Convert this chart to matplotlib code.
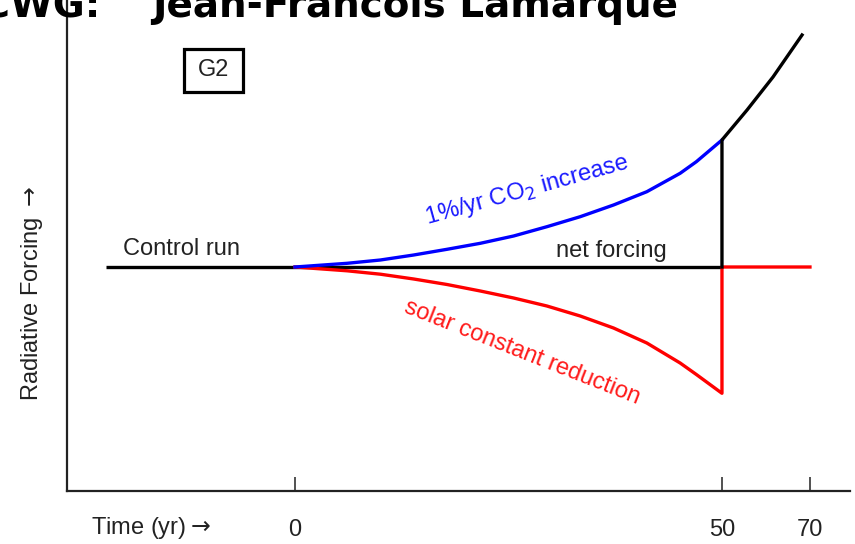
import numpy as np
import matplotlib
matplotlib.use("Agg")
import matplotlib.pyplot as plt
from matplotlib.patches import Rectangle

plt.rcParams['font.family'] = ['Liberation Sans', 'DejaVu Sans']
plt.rcParams['mathtext.fontset'] = 'dejavusans'

# ---- data (schematic radiative forcing, arbitrary units) ----
control_t = [-22.1, 50.0]
control_f = [0.0, 0.0]

co2_t = [0.0, 6.1, 10.0, 13.9, 17.8, 21.7, 25.6, 29.5, 33.4, 37.3, 41.2, 45.1, 47.0, 50.0]
co2_f = [0.0, 3.7, 7.0, 12.0, 17.7, 23.7, 31.0, 40.3, 50.3, 62.0, 75.3, 93.7, 105.3, 127.0]

solar_t = [0.0, 6.1, 10.0, 13.9, 17.8, 21.7, 25.6, 29.5, 33.4, 37.3, 41.2, 45.1, 47.0, 50.0,
           50.0, 70.0]
solar_f = [0.0, -3.8, -7.2, -12.0, -17.5, -24.0, -31.0, -39.0, -49.0, -61.0, -76.0, -96.0,
           -107.5, -126.3, 0.0, 0.0]

after_t = [50.0, 50.0, 55.7, 61.6, 68.2]
after_f = [0.0, 127.0, 157.0, 190.0, 232.0]

tick_vals = [0, 50, 70]
tick_labels = ["0", "50", "70"]

# time axis is compressed after year 50
K = 4.4 / 8.54


def fwd(t):
    t = np.asarray(t, dtype=float)
    return np.where(t <= 50, t, 50 + (t - 50) * K)


def inv(u):
    u = np.asarray(u, dtype=float)
    return np.where(u <= 50, u, 50 + (u - 50) / K)


W, H = 855, 544
fig = plt.figure(figsize=(W / 100, H / 100), dpi=100)
ax = fig.add_axes([67 / W, 53 / H, (850 - 67) / W, 491 / H])
ax.set_xscale('function', functions=(fwd, inv))
ax.set_xlim(-26.7, 79.1)
ax.set_ylim(-224, 267)

lw = 2.4
ax.plot(control_t, control_f, color='black', lw=lw, solid_capstyle='butt', zorder=2)
ax.plot(solar_t, solar_f, color='#ff0000', lw=lw, zorder=3)
ax.plot(co2_t, co2_f, color='#0000ff', lw=lw, zorder=4)
ax.plot(after_t, after_f, color='black', lw=lw, zorder=5)

for s in ['top', 'right']:
    ax.spines[s].set_visible(False)
for s in ['left', 'bottom']:
    ax.spines[s].set_linewidth(1.6)
    ax.spines[s].set_color('#222222')
ax.set_yticks([])
ax.set_xticks(tick_vals)
ax.set_xticklabels(tick_labels)
ax.xaxis.set_minor_locator(matplotlib.ticker.NullLocator())
ax.tick_params(axis='x', direction='in', length=10, width=1.1, color='#222222',
               labelsize=17, pad=20, labelcolor='#222222')

# labels inside the plot
ax.text(-13.3, 12, "Control run", fontsize=17, color='#222222', ha='center', va='baseline')
ax.text(37.0, 10, "net forcing", fontsize=17, color='#222222', ha='center', va='baseline')
ax.text(27.2, 77, r"1%/yr CO$_2$ increase", fontsize=17, color='#1a1aff',
        ha='center', va='center', rotation=15.5, rotation_mode='anchor')
ax.text(26.6, -85, "solar constant reduction", fontsize=17, color='#ff1a1a',
        ha='center', va='center', rotation=-21.5, rotation_mode='anchor')

# G2 box
fig.patches.append(Rectangle((184 / W, 1 - 92 / H), 59 / W, 43 / H, transform=fig.transFigure,
                             fill=False, edgecolor='black', lw=2.3, zorder=10))
fig.text(213.5 / W, 1 - 70.5 / H, "G2", fontsize=17, color='#222222', ha='center', va='center')

# axis labels
fig.text(151 / W, 1 - 528 / H, r"Time (yr)$\rightarrow$", fontsize=17, color='#222222',
         ha='center', va='center')
fig.text(32 / W, 1 - 293 / H, r"Radiative Forcing $\rightarrow$", fontsize=17, color='#222222',
         ha='center', va='center', rotation=90)

# title (cropped at top of slide, as in the reference)
fig.text(100 / W, 1 - 17 / H, "CCWG:", fontsize=28, fontweight='bold', color='black',
         ha='right', va='baseline', family='DejaVu Sans')
fig.text(152 / W, 1 - 17 / H, "Jean-Francois Lamarque", fontsize=28, fontweight='bold',
         color='black', ha='left', va='baseline', family='DejaVu Sans')

fig.savefig("out.png", dpi=100)
